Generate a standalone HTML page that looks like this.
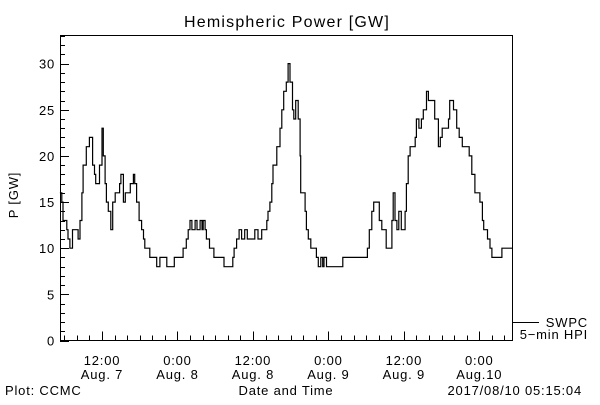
<!DOCTYPE html>
<html><head><meta charset="utf-8"><style>
body{margin:0;background:#fff}
svg text{font-family:"Liberation Sans",sans-serif;font-size:13px;letter-spacing:0.8px;fill:#000}
</style></head><body>
<svg id="chart" width="600" height="400" viewBox="0 0 600 400" xmlns="http://www.w3.org/2000/svg">
<rect width="600" height="400" fill="#fff"/>
<text x="287" y="27" text-anchor="middle" style="font-size:16px;letter-spacing:1.2px">Hemispheric Power [GW]</text>
<rect x="60.5" y="35.5" width="452" height="305" fill="none" stroke="#000"/>
<g id="yaxis"></g>
<g id="xaxis"></g>
<text transform="translate(18,195) rotate(-90)" text-anchor="middle">P [GW]</text>
<path id="series" fill="none" stroke="#000" stroke-width="1.2"/>
<g>
<line x1="513" y1="322.5" x2="539" y2="322.5" stroke="#000"/>
<text x="588" y="327" text-anchor="end">SWPC</text>
<text x="588" y="339" text-anchor="end">5−min HPI</text>
</g>
<text x="5" y="395">Plot: CCMC</text>
<text x="286" y="395" text-anchor="middle">Date and Time</text>
<text x="582" y="395" text-anchor="end">2017/08/10 05:15:04</text>
</svg>
<script>
// hours since Aug 7 00:00
const times=[5.3,5.6,5.8,6.4,6.6,6.9,7.3,8.2,8.5,8.8,9.0,9.5,10.0,10.5,10.8,11.0,11.6,12.0,12.2,12.5,12.7,13.0,13.4,13.7,14.1,14.8,15.0,15.4,15.7,16.5,17.0,17.2,17.5,17.9,18.3,18.6,18.8,19.6,20.7,21.2,22.3,23.5,24.9,25.4,25.7,26.0,26.3,26.8,27.1,27.6,27.9,28.1,28.4,28.6,29.1,29.8,31.4,32.8,33.0,33.4,33.8,34.2,34.7,35.1,36.3,36.8,37.4,38.2,38.4,38.7,39.0,39.2,39.8,40.3,40.6,40.9,41.3,41.6,41.9,42.3,42.5,42.8,43.2,43.5,43.6,44.3,44.5,44.8,45.2,46.1,46.4,46.8,47.1,47.3,47.7,50.3,54.2,54.5,54.9,55.2,56.1,56.5,57.2,58.1,58.3,58.6,58.9,59.2,59.6,60.2,60.4,60.7,61.0,61.8,62.0,62.4,62.8,63.1,63.6,63.9,64.9,65.5,65.8,66.1,67.1,67.3,67.9,68.4,68.8,69.3,70.4,70.8,71.3,72.1,72.5,72.7,73.3,73.7,74.0,75.6,77.2];
const values=[16,15,13,12,11,10,12,11,13,16,19,21,22,19,18,17,19,23,20,17,15,14,12,15,16,17,18,15,16,17,18,17,15,13,12,11,10,9,8,9,8,9,10,11,12,13,12,13,12,13,12,13,12,11,10,9,8,9,10,11,12,11,12,11,12,11,12,13,14,15,17,19,21,23,25,27,28,30,28,25,24,26,24,20,16,14,12,11,10,9,8,9,8,9,8,9,10,12,14,15,13,12,10,13,16,13,12,14,12,14,17,20,21,22,24,23,24,25,27,26,24,21,22,23,24,26,25,23,22,21,20,18,16,15,13,12,11,10,9,10,10];
const yTicks=[0,5,10,15,20,25,30];
const xTickHours=[12,24,36,48,60,72];
const xTickTimes=["12:00","0:00","12:00","0:00","12:00","0:00"];
const xTickDates=["Aug. 7","Aug. 8","Aug. 8","Aug. 9","Aug. 9","Aug.10"];
const X0=60,X1=512,Y0=340.5,T0=5.32,T1=77.2,VMAX=33.1,YTOP=35;
const xs=t=>X0+(t-T0)*(X1-X0)/(T1-T0);
const ys=v=>Y0-v*(Y0-YTOP)/VMAX;
const NS="http://www.w3.org/2000/svg";
const ya=document.getElementById('yaxis'),xa=document.getElementById('xaxis');
function mk(tag,attrs,parent){const e=document.createElementNS(NS,tag);for(const k in attrs)e.setAttribute(k,attrs[k]);parent.appendChild(e);return e;}
for(let v=0;v<=33;v++){
  const y=Math.round(ys(v))+0.5,major=v%5===0;
  const l=mk('line',{x1:X0,x2:X0+(major?9:5),y1:y,y2:y,stroke:'#000'},ya);
  
  
}
yTicks.forEach(v=>{
  const t=mk('text',{x:X0-5,y:ys(v)+5,'text-anchor':'end'},ya);
  
  
  t.textContent=v;
});
for(let h=6;h<=76;h+=2){
  const x=Math.round(xs(h))+0.5,major=h%12===0;
  const l=mk('line',{x1:x,x2:x,y1:Y0,y2:Y0-(major?9:5),stroke:'#000'},xa);
  
  
}
xTickHours.forEach((h,i)=>{
  const t=mk('text',{x:xs(h),y:365,'text-anchor':'middle'},xa);
  
  
  t.textContent=xTickTimes[i];
  const d=mk('text',{x:xs(h),y:379,'text-anchor':'middle'},xa);
  
  
  d.textContent=xTickDates[i];
});
let d='M'+xs(times[0]).toFixed(1)+','+ys(values[0]).toFixed(1);
for(let i=1;i<times.length;i++){
  d+=' H'+xs(times[i]).toFixed(1)+' V'+ys(values[i]).toFixed(1);
}
document.getElementById('series').setAttribute('d',d);
</script>
</body></html>
